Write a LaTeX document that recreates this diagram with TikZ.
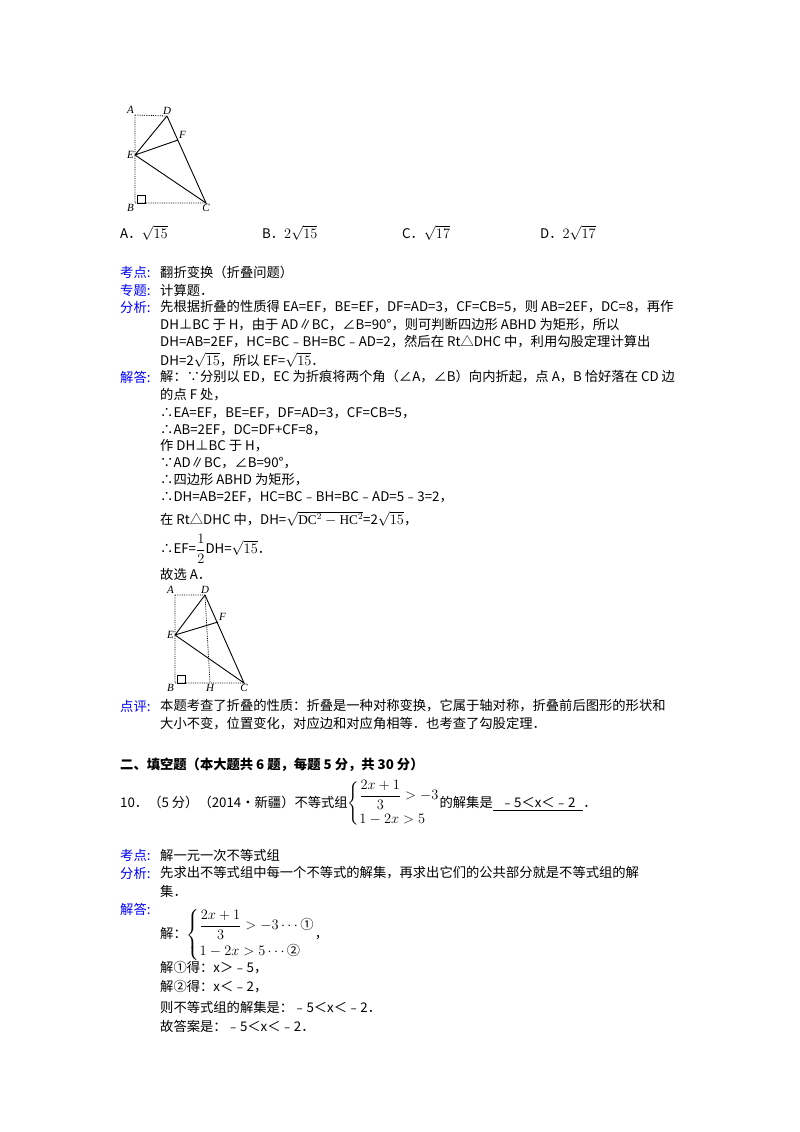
\documentclass[tikz,border=0pt]{standalone}
\usepackage{amsmath}
\usepackage{fontspec}
\setmainfont{Liberation Serif}
\newfontfamily\cjk{Noto Sans CJK SC}
\begin{document}
\begin{tikzpicture}[x=1pt,y=-1pt,
  t/.style={anchor=west,inner sep=0pt,font=\cjk\fontsize{13.3}{14}\selectfont},
  lb/.style={t,text=blue},
  lab/.style={inner sep=1pt,font=\itshape\fontsize{11}{12}\selectfont},
  dot/.style={densely dotted,thick},
  sl/.style={line width=0.9pt}]
\useasboundingbox[fill=white] (0,0) rectangle (800,1132);
% figure 1
\coordinate (A) at (135,115); \coordinate (D) at (167,116); \coordinate (F) at (178,140);
\coordinate (E) at (135,155); \coordinate (B) at (135,203); \coordinate (C) at (206,203);
\draw[dot] (A)--(D) (A)--(B)--(C);
\draw[sl] (D)--(E)--(C)--(D) (E)--(F);
\draw (B)++(2,0) rectangle ++(8,-8);
\node[lab,anchor=south east] at (A) {A};
\node[lab,anchor=south] at (D) {D};
\node[lab,anchor=south west] at (F) {F};
\node[lab,anchor=east] at (E) {E};
\node[lab,anchor=north east] at (B) {B};
\node[lab,anchor=north] at (C) {C};
\node[t] at (120,233) {A．$\sqrt{15}$};
\node[t] at (262,233) {B．$2\sqrt{15}$};
\node[t] at (402,233) {C．$\sqrt{17}$};
\node[t] at (540,233) {D．$2\sqrt{17}$};
% text
\node[lb] at (120,272) {考点:}; \node[t] at (160,272) {翻折变换（折叠问题）};
\node[lb] at (120,290) {专题:}; \node[t] at (160,290) {计算题．};
\node[lb] at (120,307) {分析:}; \node[t] at (160,307) {先根据折叠的性质得 EA=EF，BE=EF，DF=AD=3，CF=CB=5，则 AB=2EF，DC=8，再作};
\node[t] at (160,325) {DH⊥BC 于 H，由于 AD∥BC，∠B=90°，则可判断四边形 ABHD 为矩形，所以};
\node[t] at (160,342) {DH=AB=2EF，HC=BC﹣BH=BC﹣AD=2，然后在 Rt△DHC 中，利用勾股定理计算出};
\node[t] at (160,360) {DH=2$\sqrt{15}$，所以 EF=$\sqrt{15}$．};
\node[lb] at (120,377) {解答:}; \node[t] at (160,377) {解：∵分别以 ED，EC 为折痕将两个角（∠A，∠B）向内折起，点 A，B 恰好落在 CD 边};
\node[t] at (160,395) {的点 F 处，};
\node[t] at (160,413) {∴EA=EF，BE=EF，DF=AD=3，CF=CB=5，};
\node[t] at (160,430) {∴AB=2EF，DC=DF+CF=8，};
\node[t] at (160,446) {作 DH⊥BC 于 H，};
\node[t] at (160,463) {∵AD∥BC，∠B=90°，};
\node[t] at (160,480) {∴四边形 ABHD 为矩形，};
\node[t] at (160,497) {∴DH=AB=2EF，HC=BC﹣BH=BC﹣AD=5﹣3=2，};
\node[t] at (160,519) {在 Rt△DHC 中，DH=$\sqrt{\mathrm{DC}^2-\mathrm{HC}^2}$=2$\sqrt{15}$，};
\node[t] at (160,549) {∴EF=$\dfrac12$DH=$\sqrt{15}$．};
\node[t] at (160,574) {故选 A．};
% figure 2
\coordinate (A2) at (175,595); \coordinate (D2) at (205,595); \coordinate (F2) at (218,622);
\coordinate (E2) at (175,635); \coordinate (B2) at (175,683); \coordinate (C2) at (244,683);
\coordinate (H2) at (210,683);
\draw[dot] (A2)--(D2) (A2)--(B2)--(C2) (D2)--(H2);
\draw[sl] (D2)--(E2)--(C2)--(D2) (E2)--(F2);
\draw (B2)++(2,0) rectangle ++(8,-8);
\node[lab,anchor=south east] at (A2) {A};
\node[lab,anchor=south] at (D2) {D};
\node[lab,anchor=south west] at (F2) {F};
\node[lab,anchor=east] at (E2) {E};
\node[lab,anchor=north east] at (B2) {B};
\node[lab,anchor=north] at (H2) {H};
\node[lab,anchor=north] at (C2) {C};
\node[lb] at (120,706) {点评:}; \node[t] at (160,706) {本题考查了折叠的性质：折叠是一种对称变换，它属于轴对称，折叠前后图形的形状和};
\node[t] at (160,724) {大小不变，位置变化，对应边和对应角相等．也考查了勾股定理．};
\node[t,font=\cjk\bfseries\fontsize{13.3}{14}\selectfont] at (120,765) {二、填空题（本大题共 6 题，每题 5 分，共 30 分）};
\node[t] at (120,804) {10．（5 分）（2014•新疆）不等式组$\left\{\begin{array}{@{}l@{}}\dfrac{2x+1}{3}>-3\\[10pt] 1-2x>5\end{array}\right.$的解集是\underline{\hspace{8pt}﹣5＜x＜﹣2\hspace{8pt}}．};
\node[lb] at (120,855) {考点:}; \node[t] at (160,855) {解一元一次不等式组};
\node[lb] at (120,873) {分析:}; \node[t] at (160,873) {先求出不等式组中每一个不等式的解集，再求出它们的公共部分就是不等式组的解};
\node[t] at (160,891) {集．};
\node[lb] at (120,909) {解答:};
\node[t] at (160,935) {解：$\left\{\begin{array}{@{}l@{}}\dfrac{2x+1}{3}>-3\cdots\text{①}\\[10pt] 1-2x>5\cdots\text{②}\end{array}\right.$，};
\node[t] at (160,968) {解①得：x＞﹣5，};
\node[t] at (160,987) {解②得：x＜﹣2，};
\node[t] at (160,1007) {则不等式组的解集是：﹣5＜x＜﹣2．};
\node[t] at (160,1026) {故答案是：﹣5＜x＜﹣2．};
\end{tikzpicture}
\end{document}
